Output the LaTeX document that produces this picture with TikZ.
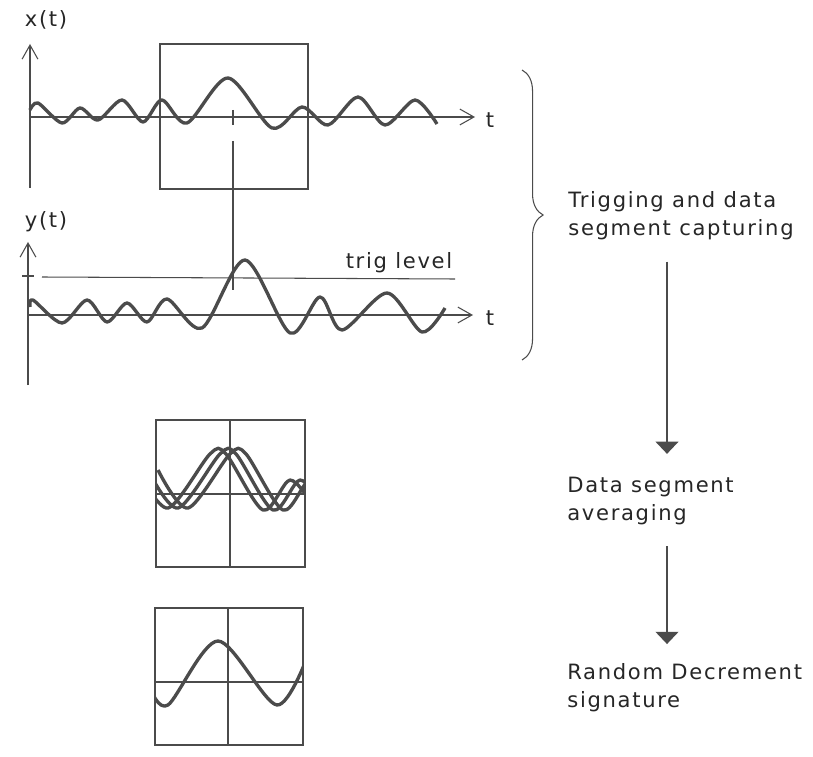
\documentclass[tikz,border=0pt]{standalone}
\usepackage{fontspec}
\setmainfont{DejaVu Sans}[LetterSpace=8]
\usetikzlibrary{arrows.meta, positioning, decorations.pathreplacing}
\definecolor{inkgray}{RGB}{75, 75, 75}

\begin{document}
\begin{tikzpicture}[x=0.02cm, y=-0.02cm,
  wave/.style={line width=1.9pt, draw=inkgray, line join=round},
  frameline/.style={line width=0.6pt, draw=inkgray},
  axis/.style={line width=0.6pt, draw=inkgray, -{Straight Barb[length=8pt, width=9pt]}},
  flow/.style={line width=1.1pt, draw=inkgray, -{Triangle[length=7pt, width=13pt]}},
  lbl/.style={font=\fontsize{12}{16}\selectfont, text=black!85, inner sep=0pt}]
  \useasboundingbox (0,0) rectangle (813,756);

  % Signal x(t)
  \draw[axis] (30,188) -- (30,44);
  \draw[axis] (30,117) -- (475,117);
  \node[lbl] (xlab) at (46,20) {x(t)};
  \node[lbl] (xt) at (490,120) {t};
  \draw[frameline] (160,44) rectangle (308,189);
  \draw[frameline] (233,110) -- (233,125);
  \draw[wave] plot[smooth] coordinates {(30,110) (38,103) (62,123) (80,108) (98,120) (122,100)
    (143,122) (162,100) (187,123) (228,78) (272,128) (302,107) (328,125) (358,97) (385,125)
    (415,100) (437,124)};

  % Trigger
  \draw[frameline] (233,141) -- (233,290);

  % Signal y(t)
  \draw[axis] (28,385) -- (28,242);
  \draw[axis] (28,315) -- (473,315);
  \node[lbl] (ylab) at (46,222) {y(t)};
  \node[lbl] (yt) at (490,318) {t};
  \draw[frameline] (22,276) -- (34,276);
  \draw[frameline] (42,277) -- (455,279);
  \node[lbl] (trig) at (399,263) {trig level};
  \draw[wave] plot[smooth] coordinates {(30,307) (33,300) (62,323) (87,300) (107,322) (127,303)
    (147,322) (167,299) (202,328) (245,260) (290,333) (320,297) (342,330) (387,293) (422,332)
    (445,308)};

  % Brace
  \draw[frameline, decorate, decoration={brace, amplitude=12}] (522,70) -- (522,360);
  \node[lbl, anchor=west, align=left] (capture) at (568,216) {Trigging and data\\segment capturing};

  % Averaging
  \draw[frameline] (156,420) rectangle (305,567);
  \draw[frameline] (230,420) -- (230,567);
  \draw[frameline] (156,494) -- (305,494);
  \begin{scope}
    \clip (156,420) rectangle (305,567);
    \foreach \p in {218,228,238}
      \draw[wave, shift={(\p,0)}] plot[smooth] coordinates {(-80,470) (-50,508) (-8,454) (8,454)
        (45,510) (72,480) (95,505)};
  \end{scope}
  \node[lbl, anchor=west, align=left] (avg) at (567,501) {Data segment\\averaging};

  % Signature
  \draw[frameline] (155,608) rectangle (303,745);
  \draw[frameline] (228,608) -- (228,745);
  \draw[frameline] (155,682) -- (303,682);
  \begin{scope}
    \clip (155,608) rectangle (303,745);
    \draw[wave] plot[smooth] coordinates {(150,688) (168,705) (218,641) (277,705) (310,650)};
  \end{scope}
  \node[lbl, anchor=west, align=left] (rds) at (567,688) {Random Decrement\\signature};

  % Flow
  \coordinate (flowx) at (667,0);
  \draw[flow, shorten <=12pt, shorten >=13pt] (capture.south -| flowx) -- (avg.north -| flowx);
  \draw[flow, shorten <=12pt, shorten >=11pt] (avg.south -| flowx) -- (rds.north -| flowx);
\end{tikzpicture}
\end{document}
